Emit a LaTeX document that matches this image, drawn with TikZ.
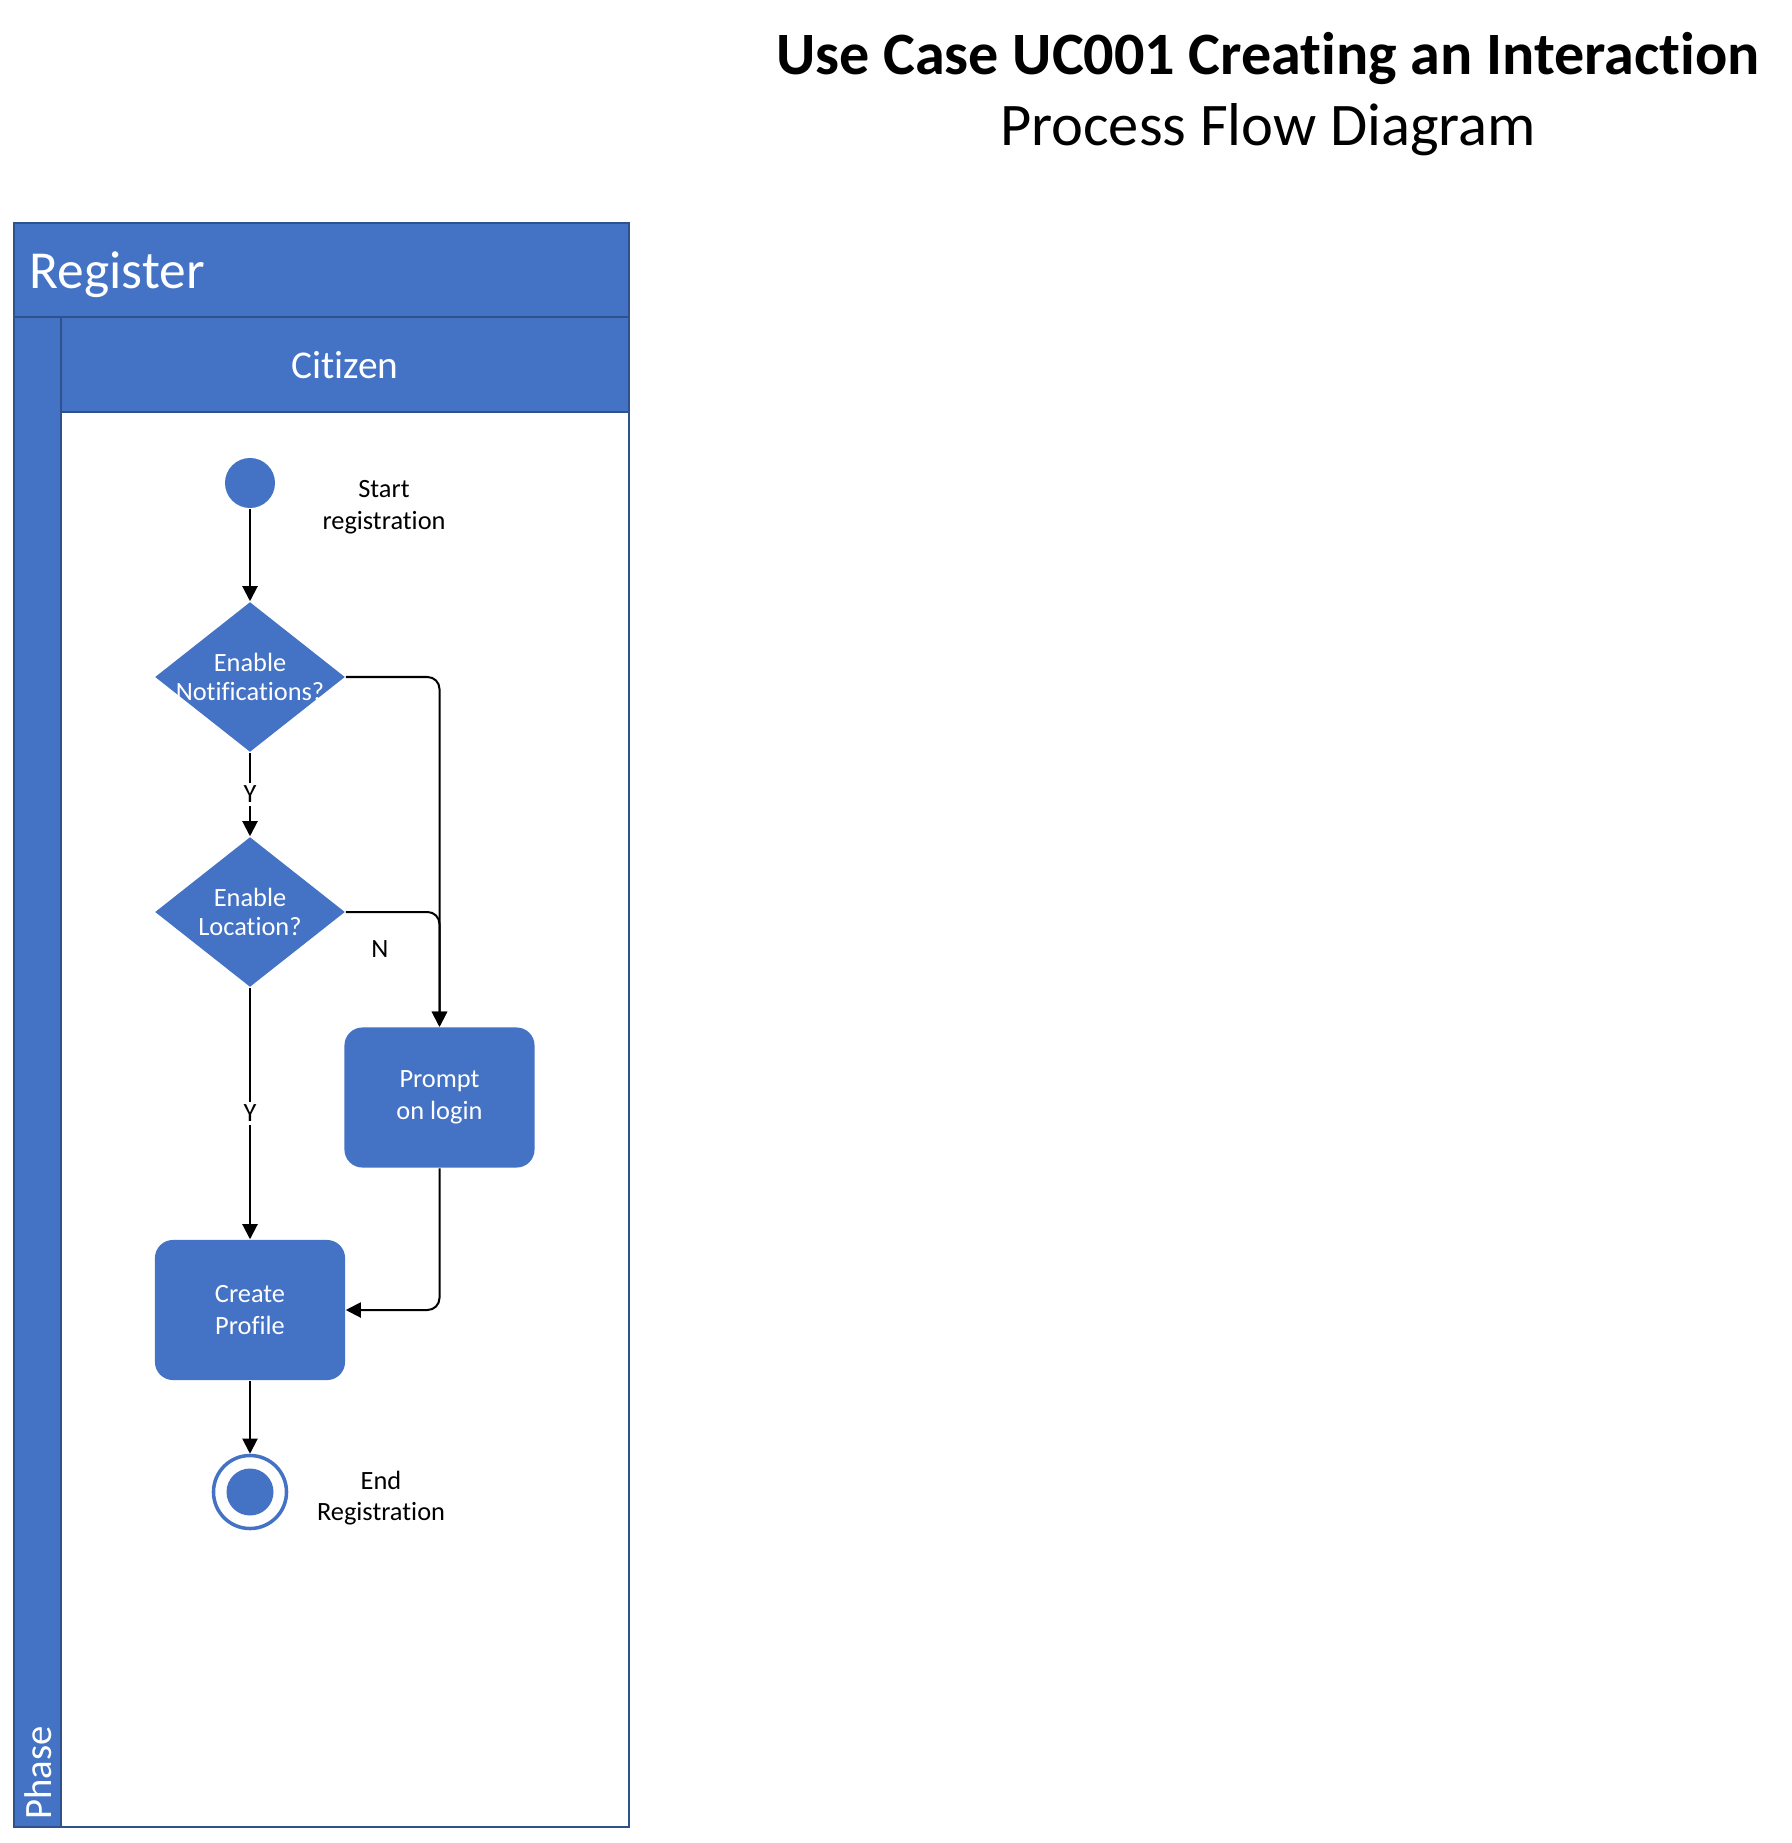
\documentclass[tikz,border=0pt]{standalone}
\usepackage{fontspec}
\setmainfont{Carlito}[Ligatures=CommonOff]
\usetikzlibrary{shapes.geometric,arrows.meta}
\definecolor{laneblue}{HTML}{4472C4}
\definecolor{laneedge}{HTML}{2F528F}
\newcommand{\flowfont}{\fontsize{7.5}{9}\selectfont}

\begin{document}
\begin{tikzpicture}[x=0.01cm,y=-0.01cm,
  flow/.style={line width=0.57pt,-{Triangle[length=4.3pt,width=4.3pt]}},
  activity/.style={fill=laneblue,rounded corners=0.18cm,minimum width=1.9cm,minimum height=1.4cm,text=white,align=center,font=\flowfont},
  decision/.style={diamond,fill=laneblue,minimum width=1.9cm,minimum height=1.5cm,inner sep=0pt},
  dectext/.style={text=white,align=center,font=\fontsize{7.5}{8}\selectfont},
  note/.style={align=center,font=\flowfont},
  guard/.style={fill=white,inner sep=1pt,font=\flowfont}]
\useasboundingbox (0,0) rectangle (1792,1843);

% Title
\node[font=\fontsize{17.1}{20}\selectfont\bfseries] (title) at (1268,59) {Use Case UC001 Creating an Interaction};
\node[font=\fontsize{17.2}{20}\selectfont] (subtitle) at (1268,130) {Process Flow Diagram};

% Pool and lane
\fill[laneblue] (14,223) rectangle (629,412);
\fill[laneblue] (14,412) rectangle (61,1827);
\draw[laneedge,line width=0.57pt] (14,223) rectangle (629,1827);
\draw[laneedge,line width=0.57pt] (14,317) -- (629,317);
\draw[laneedge,line width=0.57pt] (61,317) -- (61,1827);
\draw[laneedge,line width=0.57pt] (61,412) -- (629,412);
\node[anchor=west,inner sep=0pt,text=white,font=\fontsize{15.2}{18}\selectfont] (pool) at (29,275) {Register};
\node[text=white,font=\fontsize{11.2}{14}\selectfont] (lane) at (345,365) {Citizen};
\node[rotate=90,anchor=west,inner sep=0pt,text=white,font=\fontsize{11}{13}\selectfont] (phase) at (38,1820) {Phase};

% Flow
\node[circle,fill=laneblue,minimum size=0.5cm,inner sep=0pt] (start) at (250,483) {};
\node[note] (startlbl) at (384,507) {Start\\registration};
\node[decision,label={[dectext]center:{Enable\\Notifications?}}] (notif) at (250,677) {};
\node[decision,label={[dectext]center:{Enable\\Location?}}] (loc) at (250,912) {};
\node[activity] (prompt) at (439.5,1097.5) {Prompt\\on login};
\node[activity] (create) at (250,1310) {Create\\Profile};
\node[circle,draw=laneblue,line width=1pt,fill=white,minimum size=0.73cm,inner sep=0pt] (finish) at (250,1492) {};
\fill[laneblue] (finish) circle (23.5);
\node[note] (endlbl) at (381,1498) {End\\Registration};

\draw[flow] (start) -- (notif);
\draw[flow] (notif) -- node[guard] {Y} (loc);
\draw[flow,rounded corners=0.12cm] (notif.east) -| (prompt.north);
\draw[flow,rounded corners=0.12cm] (loc.east) -| node[pos=0.66,left=0.5cm,inner sep=0pt,font=\flowfont] {N} (prompt.north);
\draw[flow] (loc) -- node[guard] {Y} (create);
\draw[flow,rounded corners=0.12cm] (prompt.south) |- (create.east);
\draw[flow] (create) -- (finish);
\end{tikzpicture}
\end{document}
